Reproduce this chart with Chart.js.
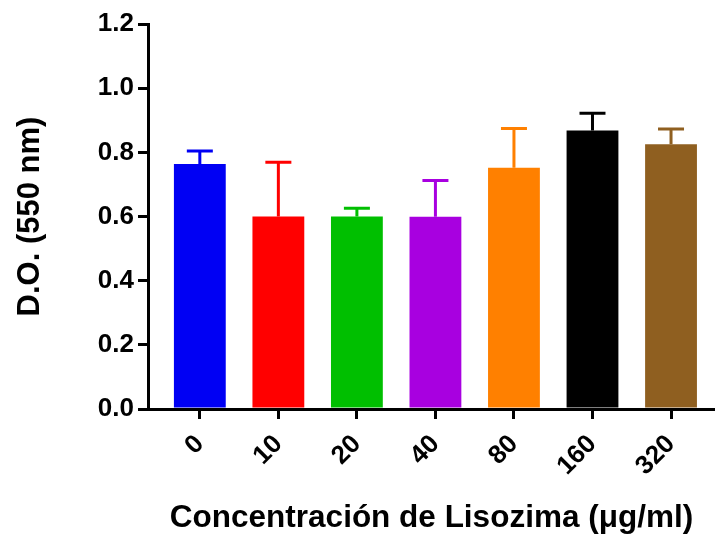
<!DOCTYPE html>
<html>
<head>
<meta charset="utf-8">
<script src="https://cdn.jsdelivr.net/npm/chart.js@4"></script>
<style>
  html, body { margin: 0; padding: 0; background: #fff; }
  #wrap { width: 715px; height: 537px; }
</style>
</head>
<body>
<div id="wrap"><canvas id="barChart"></canvas></div>
<script>
// lysozyme concentrations (ug/ml)
const labels = ['0', '10', '20', '40', '80', '160', '320'];
// optical density means and SD (upper bar only)
const means = [0.764, 0.600, 0.600, 0.599, 0.752, 0.868, 0.825];
const sds = [0.040, 0.169, 0.026, 0.113, 0.122, 0.054, 0.048];
const colors = ['#0000f4', '#ff0000', '#00bf00', '#a800e0', '#ff8000', '#000000', '#8f5f20'];

const font = 'Liberation Sans, Arial, Helvetica, sans-serif';

// upward SD whiskers in the bar colour
const errorBars = {
    id: 'errorBars',
    afterDatasetsDraw(chart) {
        const ctx = chart.ctx;
        const xs = chart.scales.x;
        const ys = chart.scales.y;
        ctx.save();
        ctx.lineWidth = 3;
        ctx.lineCap = 'butt';
        means.forEach((m, i) => {
            const x = xs.getPixelForValue(i);
            const yTop = ys.getPixelForValue(m + sds[i]);
            const yBar = ys.getPixelForValue(m);
            ctx.strokeStyle = colors[i];
            ctx.beginPath();
            ctx.moveTo(x, yBar);
            ctx.lineTo(x, yTop);
            ctx.moveTo(x - 13, yTop);
            ctx.lineTo(x + 13, yTop);
            ctx.stroke();
        });
        ctx.restore();
    }
};

const data = {
    datasets: [{
        data: means.map((v, i) => ({ x: i, y: v })),
        backgroundColor: colors,
        borderWidth: 0,
        barPercentage: 0.66,
        categoryPercentage: 1
    }]
};

const config = {
    type: 'bar',
    data,
    options: {
        responsive: true,
        maintainAspectRatio: false,
        animation: false,
        layout: { padding: { top: 24, right: 0, left: 0, bottom: 0 } },
        plugins: {
            legend: { display: false },
            tooltip: { enabled: false }
        },
        scales: {
            x: {
                type: 'linear',
                offset: false,
                min: -0.66,
                max: 6.56,
                afterFit(scale) { scale.height = 128; },
                afterBuildTicks(scale) {
                    scale.ticks = labels.map((l, i) => ({ value: i }));
                },
                border: { color: '#000', width: 3 },
                grid: {
                    offset: false,
                    drawOnChartArea: false,
                    drawTicks: true,
                    tickLength: 10,
                    lineWidth: 3,
                    color: '#000'
                },
                ticks: {
                    autoSkip: false,
                    minRotation: 45,
                    maxRotation: 45,
                    padding: 10,
                    color: '#000',
                    font: { family: font, size: 26, weight: 'bold' },
                    callback: (v) => labels[v]
                },
                title: {
                    display: true,
                    text: 'Concentración de Lisozima (μg/ml)',
                    color: '#000',
                    font: { family: font, size: 31.5, weight: 'bold' },
                    padding: { top: 0, bottom: 0 }
                }
            },
            y: {
                min: 0,
                max: 1.2,
                afterFit(scale) { scale.width = 148; },
                border: { color: '#000', width: 3 },
                grid: {
                    drawOnChartArea: false,
                    drawTicks: true,
                    tickLength: 10,
                    lineWidth: 3,
                    color: '#000'
                },
                ticks: {
                    stepSize: 0.2,
                    padding: 4,
                    color: '#000',
                    font: { family: font, size: 26, weight: 'bold' },
                    callback: (v) => v.toFixed(1)
                },
                title: {
                    display: true,
                    text: 'D.O. (550 nm)',
                    color: '#000',
                    font: { family: font, size: 31, weight: 'bold' },
                    padding: { top: 12, bottom: 0 }
                }
            }
        }
    },
    plugins: [errorBars]
};

new Chart(document.getElementById('barChart'), config);
</script>
</body>
</html>
